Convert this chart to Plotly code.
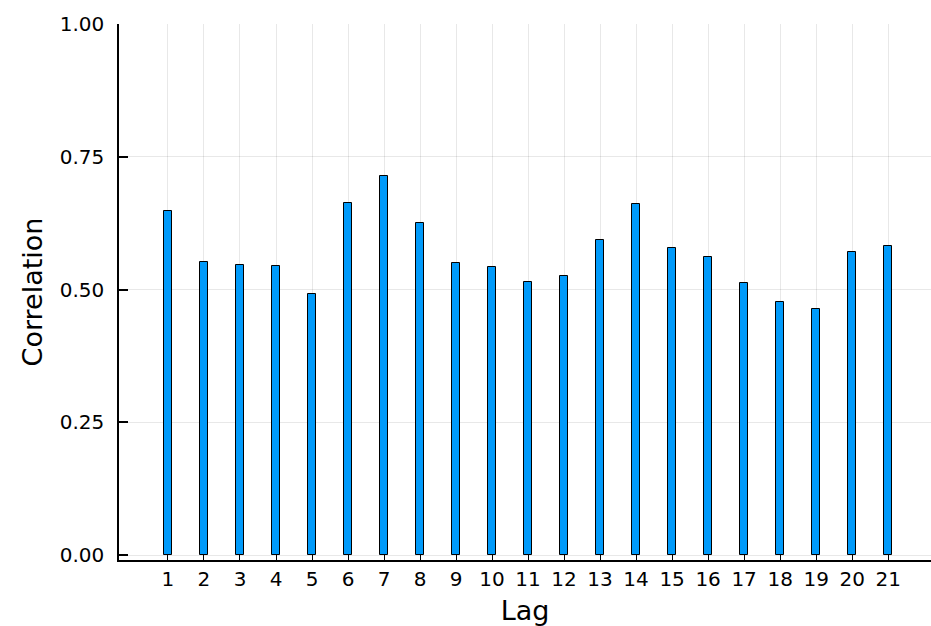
import plotly.graph_objects as go

lags = list(range(1, 22))
correlation = [0.648, 0.551, 0.547, 0.544, 0.491, 0.662, 0.714, 0.625, 0.549, 0.542,
               0.515, 0.525, 0.593, 0.661, 0.578, 0.561, 0.512, 0.476, 0.463, 0.571, 0.582]
y_ticks = [0.0, 0.25, 0.5, 0.75, 1.0]
y_tick_labels = ["0.00", "0.25", "0.50", "0.75", "1.00"]

fig = go.Figure()
fig.add_trace(go.Bar(
    x=lags, y=correlation, width=0.22,
    marker=dict(color="#009AFA", line=dict(color="black", width=1)),
    showlegend=False,
))

font = "DejaVu Sans, Liberation Sans, sans-serif"
fig.update_layout(
    width=931, height=626,
    margin=dict(l=119, r=0, t=24, b=66),
    paper_bgcolor="white", plot_bgcolor="white",
    font=dict(family=font, color="black", size=20),
    bargap=0,
)
fig.update_xaxes(
    range=[-0.36, 22.19],
    tickmode="array", tickvals=lags, ticktext=[str(v) for v in lags],
    ticks="inside", ticklen=5, tickcolor="black", tickwidth=1,
    showline=True, linecolor="black", linewidth=1.5,
    showgrid=True, gridcolor="rgba(0,0,0,0.09)", gridwidth=1,
    zeroline=False,
    title=dict(text="Lag", font=dict(size=27, family=font), standoff=13),
    tickfont=dict(size=20),
)
fig.update_yaxes(
    range=[-0.0094, 1.0],
    tickmode="array", tickvals=y_ticks, ticktext=y_tick_labels,
    ticks="inside", ticklen=9, tickcolor="black", tickwidth=1.5,
    showline=True, linecolor="black", linewidth=1.5,
    showgrid=True, gridcolor="rgba(0,0,0,0.09)", gridwidth=1,
    zeroline=False, ticklabelstandoff=9,
    title=dict(text="Correlation", font=dict(size=27, family=font), standoff=9),
    tickfont=dict(size=20),
)

fig.write_html("out.html", config={"displayModeBar": False},
               post_script="document.body.style.margin='0';")
